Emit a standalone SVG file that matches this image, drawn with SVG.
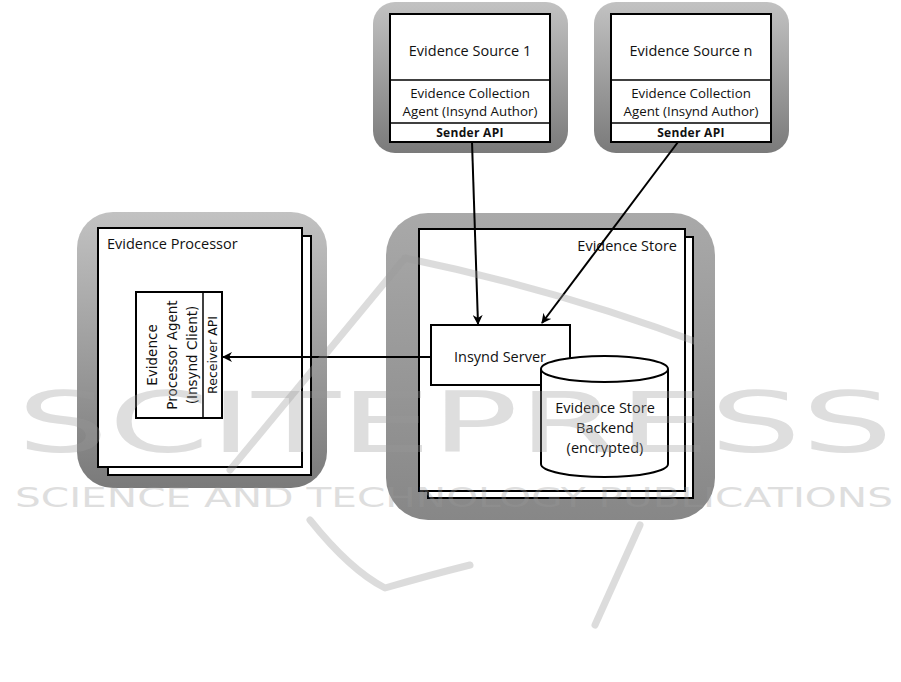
<svg xmlns="http://www.w3.org/2000/svg" width="901" height="682" viewBox="0 0 901 682">
<style>
text{font-family:"Open Sans","Liberation Sans",sans-serif;fill:#111}
.box{fill:#fff;stroke:#000;stroke-width:2}
.thin{fill:none;stroke:#000;stroke-width:1.5}
.t14{font-size:14.5px}
.t13{font-size:13.3px}
.b{font-size:12px;font-weight:bold;letter-spacing:0.3px}
.v{font-family:"DejaVu Sans","Liberation Sans",sans-serif;font-size:13.5px}
.conn{stroke:#000;stroke-width:2;fill:none;marker-end:url(#ah)}
.wm{fill:#9a9a9a;opacity:0.32;font-family:"DejaVu Sans",sans-serif}
.sw{fill:none;stroke:#9a9a9a;stroke-opacity:0.35;stroke-width:7;stroke-linecap:round;stroke-linejoin:round}
</style>
<defs>
<linearGradient id="g" x1="0" y1="0" x2="0" y2="1">
<stop offset="0" stop-color="#c2c2c2"/>
<stop offset="1" stop-color="#7a7a7a"/>
</linearGradient>
<linearGradient id="g2" x1="0" y1="0" x2="0" y2="1">
<stop offset="0" stop-color="#a9a9a9"/>
<stop offset="1" stop-color="#878787"/>
</linearGradient>
<marker id="ah" viewBox="0 0 10 10" refX="9" refY="5" markerWidth="5" markerHeight="5" orient="auto" markerUnits="strokeWidth">
<path d="M0,0 L10,5 L0,10 L3,5 z" fill="#000"/>
</marker>
</defs>
<rect width="901" height="682" fill="#fff"/>

<g id="source1">
<rect x="373" y="2" width="195" height="151" rx="22" fill="url(#g)"/>
<rect class="box" x="390" y="14" width="160" height="128"/>
<line class="thin" x1="390" y1="80" x2="550" y2="80"/>
<line class="thin" x1="390" y1="123" x2="550" y2="123"/>
<text class="t14" x="470" y="56" text-anchor="middle">Evidence Source 1</text>
<text class="t13" x="470" y="98" text-anchor="middle">Evidence Collection</text>
<text class="t13" x="470" y="116" text-anchor="middle">Agent (Insynd Author)</text>
<text class="b" x="470" y="137" text-anchor="middle">Sender API</text>
</g>

<g id="sourceN">
<rect x="594" y="2" width="195" height="151" rx="22" fill="url(#g)"/>
<rect class="box" x="611" y="14" width="160" height="128"/>
<line class="thin" x1="611" y1="80" x2="771" y2="80"/>
<line class="thin" x1="611" y1="123" x2="771" y2="123"/>
<text class="t14" x="691" y="56" text-anchor="middle">Evidence Source n</text>
<text class="t13" x="691" y="98" text-anchor="middle">Evidence Collection</text>
<text class="t13" x="691" y="116" text-anchor="middle">Agent (Insynd Author)</text>
<text class="b" x="691" y="137" text-anchor="middle">Sender API</text>
</g>

<g id="processor">
<rect x="77" y="212" width="250" height="276" rx="36" fill="url(#g)"/>
<rect class="box" x="108" y="236" width="203" height="239"/>
<rect class="box" x="98" y="228" width="204" height="239"/>
<text class="t14" x="107" y="249">Evidence Processor</text>
</g>

<g id="agent">
<rect class="box" x="136" y="292" width="86" height="126"/>
<line class="thin" x1="203" y1="292" x2="203" y2="418"/>
<text class="v" transform="translate(157,355) rotate(-90)" text-anchor="middle">Evidence</text>
<text class="v" transform="translate(177,355) rotate(-90)" text-anchor="middle">Processor Agent</text>
<text class="v" transform="translate(197,355) rotate(-90)" text-anchor="middle">(Insynd Client)</text>
<text class="v" style="font-size:12.5px" transform="translate(217,355) rotate(-90)" text-anchor="middle">Receiver API</text>
</g>

<g id="store">
<rect x="386" y="213" width="329" height="307" rx="42" fill="url(#g2)"/>
<rect class="box" x="428" y="237" width="265" height="261"/>
<rect class="box" x="419" y="229" width="266" height="262"/>
<text class="t14" x="677" y="251" text-anchor="end">Evidence Store</text>
</g>

<g id="server">
<rect class="box" x="431" y="325" width="139" height="60"/>
<text class="t14" x="500" y="362" text-anchor="middle">Insynd Server</text>
</g>

<g id="backend">
<path class="box" d="M541,369 L541,464 A63.5,13 0 0 0 668,464 L668,369 A63.5,13 0 0 0 541,369 Z"/>
<path class="thin" d="M541,369 A63.5,13 0 0 0 668,369" style="stroke-width:2"/>
<text class="t14" x="605" y="413" text-anchor="middle">Evidence Store</text>
<text class="t14" x="605" y="433" text-anchor="middle">Backend</text>
<text class="t14" x="605" y="453" text-anchor="middle">(encrypted)</text>
</g>

<g id="connectors">
<path class="conn" d="M472,142 L478,324"/>
<path class="conn" d="M678,142 L542,323"/>
<path class="conn" d="M431,357 L223,357"/>
</g>

<g id="watermark">
<path class="sw" d="M230,470 L405,258 Q560,290 705,345"/>
<path class="sw" d="M310,520 Q350,570 385,588 Q430,575 470,565"/>
<path class="sw" d="M640,525 L595,625"/>
<text class="wm" x="17" y="452" font-size="84" textLength="876" lengthAdjust="spacingAndGlyphs">SCITEPRESS</text>
<text class="wm" x="15" y="507" font-size="26" textLength="878" lengthAdjust="spacingAndGlyphs">SCIENCE AND TECHNOLOGY PUBLICATIONS</text>
</g>
</svg>
